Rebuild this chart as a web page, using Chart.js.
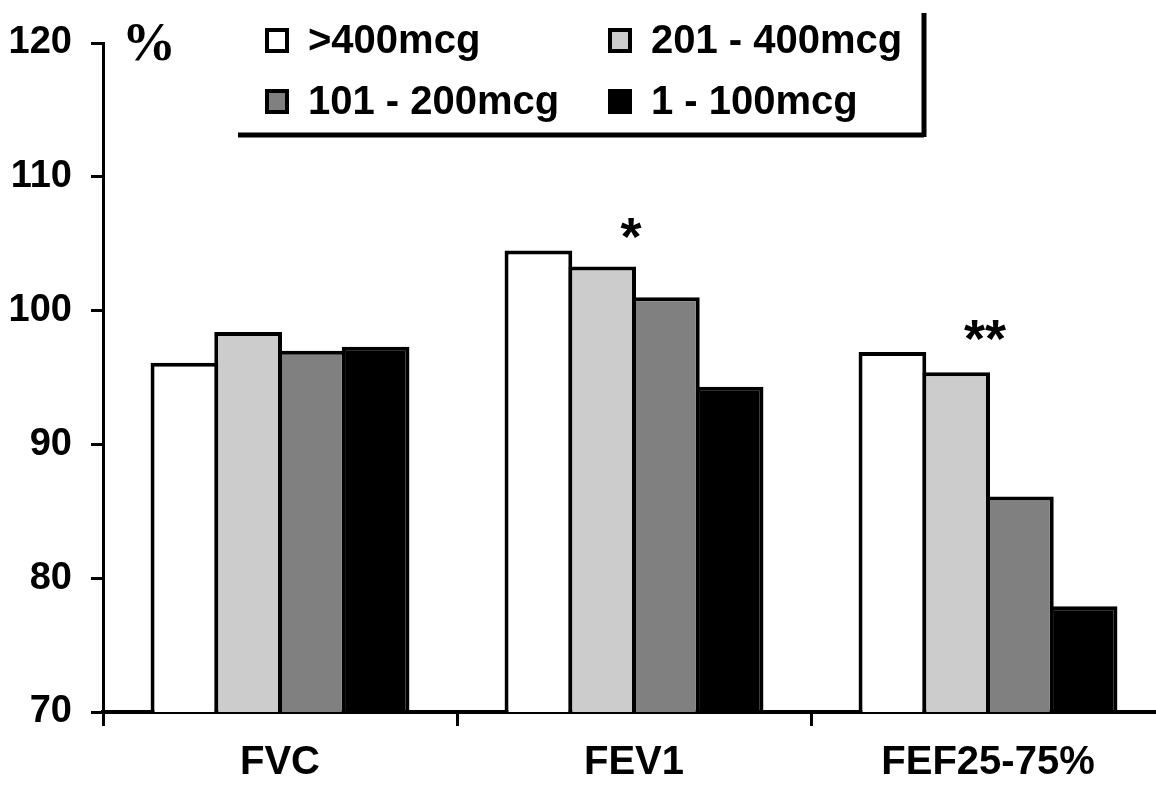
<!DOCTYPE html>
<html>
<head>
<meta charset="utf-8">
<script src="https://cdn.jsdelivr.net/npm/chart.js@4/dist/chart.umd.min.js"></script>
<style>
html,body{margin:0;padding:0;background:#fff;overflow:hidden;width:1156px;height:789px;}
canvas{display:block;}
</style>
</head>
<body>
<canvas id="c" width="1170" height="789"></canvas>
<script>
// ---- data ----
const categories = ['FVC', 'FEV1', 'FEF25-75%'];
const seriesLabels = ['>400mcg', '201 - 400mcg', '101 - 200mcg', '1 - 100mcg'];
const over400 = [96.1, 104.5, 96.9];
const from201to400 = [98.4, 103.3, 95.4];
const from101to200 = [97.0, 101.0, 86.1];
const from1to100 = [97.3, 94.3, 77.9];
const yTickValues = [70, 80, 90, 100, 110, 120];
const significance = ['', '*', '**'];
const yUnit = '%';

const seriesValues = [over400, from201to400, from101to200, from1to100];
const seriesColors = ['#ffffff', '#cccccc', '#808080', '#000000'];
const FONT = '"Liberation Sans", Arial, sans-serif';

const datasets = seriesValues.map((vals, i) => ({
  label: seriesLabels[i],
  data: vals,
  backgroundColor: seriesColors[i],
  borderColor: '#000',
  borderWidth: 4,
  borderSkipped: 'start',
  categoryPercentage: 0.72,
  barPercentage: 1.063
}));

const overlayPlugin = {
  id: 'overlay',
  afterDraw(chart) {
    const ctx = chart.ctx;
    const xs = chart.scales.x, ys = chart.scales.y;
    ctx.save();
    // unit label
    ctx.fillStyle = '#000';
    ctx.font = 'bold 54px "Liberation Serif", "Times New Roman", serif';
    ctx.textAlign = 'center';
    ctx.textBaseline = 'middle';
    ctx.fillText(yUnit, 149, 46);
    // significance marks
    ctx.font = 'bold 54px ' + FONT;
    ctx.textBaseline = 'middle';
    categories.forEach((c, i) => {
      if (!significance[i]) return;
      const maxV = Math.max(...seriesValues.map(s => s[i]));
      const x = xs.getPixelForValue(i) - 3;
      const y = ys.getPixelForValue(maxV) - 10;
      ctx.fillText(significance[i], x, y);
    });
    // legend
    const cols = [266, 609];
    const rows = [40, 101];
    ctx.font = 'bold 40px ' + FONT;
    ctx.textAlign = 'left';
    chart.data.datasets.forEach((ds, i) => {
      const cx = cols[i % 2], cy = rows[Math.floor(i / 2)];
      ctx.fillStyle = ds.backgroundColor;
      ctx.fillRect(cx, cy - 11, 22, 23);
      ctx.lineWidth = 4;
      ctx.strokeStyle = '#000';
      ctx.strokeRect(cx + 1, cy - 10, 20, 21);
      ctx.fillStyle = '#000';
      ctx.fillText(ds.label, cx + 42, cy + 2);
    });
    // legend frame
    ctx.lineWidth = 5;
    ctx.strokeStyle = '#000';
    ctx.beginPath();
    ctx.moveTo(238, 135);
    ctx.lineTo(924, 135);
    ctx.moveTo(924, 137);
    ctx.lineTo(924, 13);
    ctx.stroke();
    ctx.restore();
  }
};

new Chart(document.getElementById('c'), {
  type: 'bar',
  data: { labels: categories, datasets },
  options: {
    responsive: false,
    animation: false,
    devicePixelRatio: 1,
    layout: { padding: { top: 43, right: 5, left: 0, bottom: 0 } },
    plugins: { legend: { display: false }, tooltip: { enabled: false } },
    scales: {
      x: {
        offset: true,
        grid: { offset: true, drawOnChartArea: false, drawTicks: true, tickLength: 14, color: '#000', tickWidth: 3 },
        border: { display: true, color: '#000', width: 4 },
        ticks: { color: '#000', padding: 13, font: { family: FONT, size: 40, weight: 'bold' } },
        afterFit(s) { s.height = 77; }
      },
      y: {
        min: 70, max: 120,
        afterBuildTicks(s) { s.ticks = yTickValues.map(v => ({ value: v })); },
        grid: { drawOnChartArea: false, drawTicks: true, tickLength: 12, color: '#000', tickWidth: 3 },
        border: { display: true, color: '#000', width: 3 },
        ticks: { color: '#000', padding: 19, font: { family: FONT, size: 38, weight: 'bold' } },
        afterFit(s) { s.width = 103; }
      }
    }
  },
  plugins: [overlayPlugin]
});
</script>
</body>
</html>
